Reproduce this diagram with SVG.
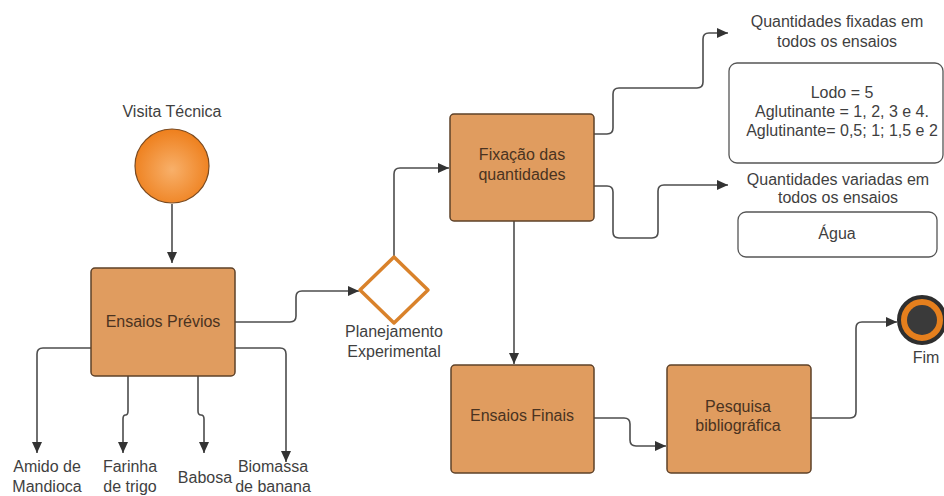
<svg xmlns="http://www.w3.org/2000/svg" width="944" height="496" viewBox="0 0 944 496">
<style>
text{font-family:"Liberation Sans",Arial,sans-serif;font-size:16px;fill:#3f3f3f;text-anchor:middle}
.box{fill:#e09c5f;stroke:#5e4128;stroke-width:1.5}
.bt{fill:#4a3321}
.note{fill:#fff;stroke:#555;stroke-width:1.3}
.c{fill:none;stroke:#4d4d4d;stroke-width:1.6;marker-end:url(#ah)}
</style>
<defs>
<marker id="ah" markerUnits="userSpaceOnUse" markerWidth="14" markerHeight="12" refX="11" refY="6" orient="auto">
<path d="M0,1 L11,6 L0,11 Z" fill="#333"/>
</marker>
<radialGradient id="og" cx="50%" cy="55%" r="55%">
<stop offset="0" stop-color="#f8b06a"/>
<stop offset="1" stop-color="#ee7f1c"/>
</radialGradient>
</defs>
<rect width="944" height="496" fill="#fff"/>
<g id="connectors">
<path class="c" d="M172 204 V263"/>
<path class="c" d="M91 348 H43 Q37 348 37 354 V453"/>
<path class="c" d="M128 376 V411 Q128 415 125.5 415 Q123 415 123 419 V453"/>
<path class="c" d="M198 376 V411 Q198 415 201 415 Q204 415 204 419 V453"/>
<path class="c" d="M235 348 H280 Q286 348 286 354 V462"/>
<path class="c" d="M235 322 H290 Q296 322 296 316 V297 Q296 291 302 291 H359"/>
<path class="c" d="M394 256 V174 Q394 168 400 168 H449"/>
<path class="c" d="M514 221 V364"/>
<path class="c" d="M594 134 H607 Q613 134 613 128 V94 Q613 88 619 88 H697 Q703 88 703 82 V39 Q703 33 709 33 H728"/>
<path class="c" d="M594 186 H607 Q613 186 613 192 V232 Q613 238 619 238 H652 Q658 238 658 232 V191 Q658 185 664 185 H728"/>
<path class="c" d="M594 418 H624 Q630 418 630 424 V440 Q630 446 636 446 H666"/>
<path class="c" d="M811 418 H850 Q856 418 856 412 V328 Q856 322 862 322 H897"/>
</g>
<g id="visita">
<circle cx="172" cy="166" r="37" fill="url(#og)" stroke="#7a4a20" stroke-width="1.2"/>
<text x="172" y="117">Visita Técnica</text>
</g>
<g id="ensaios-previos">
<rect class="box" x="91" y="268" width="144" height="108" rx="4"/>
<text class="bt" x="163" y="327">Ensaios Prévios</text>
</g>
<g id="amido"><text x="47" y="472">Amido de</text><text x="47" y="492">Mandioca</text></g>
<g id="farinha"><text x="130" y="472">Farinha</text><text x="130" y="492">de trigo</text></g>
<g id="babosa"><text x="205" y="483">Babosa</text></g>
<g id="biomassa"><text x="273" y="472">Biomassa</text><text x="273" y="492">de banana</text></g>
<g id="planejamento">
<path d="M394 257 L428 290 L394 323 L360 290 Z" fill="#fff" stroke="#d9822b" stroke-width="3.5" stroke-linejoin="round"/>
<text x="394" y="337">Planejamento</text>
<text x="394" y="357">Experimental</text>
</g>
<g id="fixacao">
<rect class="box" x="450" y="114" width="144" height="107" rx="4"/>
<text class="bt" x="522" y="160">Fixação das</text>
<text class="bt" x="522" y="180">quantidades</text>
</g>
<g id="fixadas">
<text x="837" y="27">Quantidades fixadas em</text>
<text x="837" y="47">todos os ensaios</text>
<rect class="note" x="729" y="63" width="214" height="100" rx="8"/>
<text x="842" y="98">Lodo = 5</text>
<text x="842" y="117">Aglutinante = 1, 2, 3 e 4.</text>
<text x="842" y="136">Aglutinante= 0,5; 1; 1,5 e 2</text>
</g>
<g id="variadas">
<text x="838" y="185">Quantidades variadas em</text>
<text x="838" y="203">todos os ensaios</text>
<rect class="note" x="738" y="212" width="199" height="45" rx="8"/>
<text x="837" y="239">Água</text>
</g>
<g id="ensaios-finais">
<rect class="box" x="451" y="365" width="143" height="108" rx="4"/>
<text class="bt" x="522" y="421">Ensaios Finais</text>
</g>
<g id="pesquisa">
<rect class="box" x="667" y="365" width="144" height="108" rx="4"/>
<text class="bt" x="738" y="412">Pesquisa</text>
<text class="bt" x="738" y="431">bibliográfica</text>
</g>
<g id="fim">
<circle cx="922" cy="320" r="23" fill="#e57f1d" stroke="#2e2e2e" stroke-width="4"/>
<circle cx="922" cy="320" r="15" fill="#3a3a3a"/>
<text x="926" y="363">Fim</text>
</g>
</svg>
